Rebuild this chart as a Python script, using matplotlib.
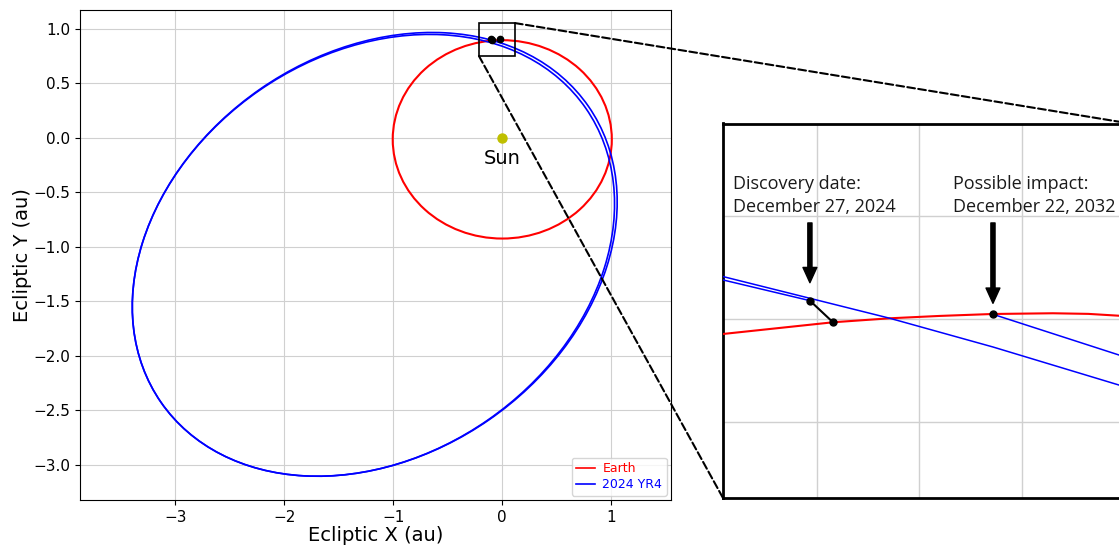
import matplotlib
matplotlib.use('Agg')
import matplotlib.pyplot as plt
from matplotlib.patches import Ellipse, Rectangle, ConnectionPatch
from matplotlib.lines import Line2D

# ---------------- main panel data (au) ----------------
earth_center = (0.0, -0.015)
earth_width = 2.01
earth_height = 1.82

yr4_centers = [(-1.170, -1.070), (-1.182, -1.079)]
yr4_widths = [4.77, 4.74]
yr4_heights = [3.69, 3.68]
yr4_angles = [34.7, 34.7]

sun_xy = (0.0, 0.0)
main_dots_x = [-0.104, -0.096, -0.021]
main_dots_y = [0.903, 0.897, 0.903]

zoom_box_x = (-0.214, 0.117)
zoom_box_y = (0.750, 1.052)

x_ticks = [-3, -2, -1, 0, 1]
y_ticks = [-3.0, -2.5, -2.0, -1.5, -1.0, -0.5, 0.0, 0.5, 1.0]

# ---------------- inset data (grid units) ----------------
earth_in_x = [-0.914, 0.159, 0.714, 1.200, 1.720, 2.305, 2.650, 2.949, 3.057]
earth_in_y = [-0.146, -0.032, 0.007, 0.030, 0.049, 0.056, 0.050, 0.032, 0.024]

pass2028_x = [-0.914, 0.714, 1.720, 2.949, 3.057]
pass2028_y = [0.414, 0.007, -0.273, -0.644, -0.676]

start_x = [-0.914, -0.066]
start_y = [0.381, 0.179]

end_x = [1.720, 2.949, 3.057]
end_y = [0.046, -0.351, -0.386]

disc_ast = (-0.066, 0.179)
disc_earth = (0.159, -0.032)
impact_pt = (1.720, 0.046)

arrow_x = [-0.066, 1.720]
arrow_tail_y = [0.937, 0.937]
arrow_tip_y = [0.354, 0.153]

label_x = [-0.817, 1.333]
label_line1 = ["Discovery date:", "Possible impact:"]
label_line2 = ["December 27, 2024", "December 22, 2032"]
label_base1_y = 1.268
label_base2_y = 1.047

# ---------------- figure ----------------
fig = plt.figure(figsize=(11.19, 5.48), dpi=100)
W, H = 1119, 548
ax = fig.add_axes([80 / W, (H - 500) / H, (671 - 80) / W, (500 - 10) / H])

ax.add_patch(Ellipse(earth_center, earth_width, earth_height, angle=0,
                     fill=False, ec='red', lw=1.5, zorder=3))
for c, w, h, a in zip(yr4_centers, yr4_widths, yr4_heights, yr4_angles):
    ax.add_patch(Ellipse(c, w, h, angle=a, fill=False, ec='blue', lw=1.2, zorder=3))

ax.plot([sun_xy[0]], [sun_xy[1]], 'o', color='y', ms=6.5, zorder=4)
ax.text(sun_xy[0], sun_xy[1] - 0.244, 'Sun', ha='center', va='baseline', fontsize=14)

ax.plot(main_dots_x, main_dots_y, 'o', color='black', ms=4.5, zorder=5)
ax.add_patch(Rectangle((zoom_box_x[0], zoom_box_y[0]),
                       zoom_box_x[1] - zoom_box_x[0], zoom_box_y[1] - zoom_box_y[0],
                       fill=False, ec='black', lw=1.2, zorder=6))

ax.set_xlim(-3.874, 1.548)
ax.set_ylim(-3.324, 1.172)
ax.set_xticks(x_ticks)
ax.set_yticks(y_ticks)
ax.tick_params(labelsize=11)
ax.grid(True, color='#d0d0d0', lw=0.8)
ax.set_axisbelow(True)
ax.set_xlabel('Ecliptic X (au)', fontsize=14, labelpad=1)
ax.set_ylabel('Ecliptic Y (au)', fontsize=14, labelpad=1)

handles = [Line2D([], [], color='red', lw=1.2, label='Earth'),
           Line2D([], [], color='blue', lw=1.2, label='2024 YR4')]
ax.legend(handles=handles, loc='lower right', fontsize=9, labelcolor='linecolor',
          handlelength=1.5, handletextpad=0.6, borderpad=0.35, labelspacing=0.25,
          borderaxespad=0.35)

# ---------------- inset ----------------
ax_in = fig.add_axes([723 / W, (H - 498) / H, (1130 - 723) / W, (498 - 123.5) / H])
ax_in.set_xlim(-0.914, 3.057)
ax_in.set_ylim(-1.746, 1.907)
ax_in.set_xticks([0, 1, 2, 3])
ax_in.set_yticks([-1, 0, 1])
ax_in.tick_params(length=0, labelbottom=False, labelleft=False)
ax_in.grid(True, color='#d0d0d0', lw=1.0)
ax_in.set_axisbelow(True)
for s in ax_in.spines.values():
    s.set_linewidth(2.0)
    s.set_color('black')

ax_in.plot(earth_in_x, earth_in_y, color='red', lw=1.5, zorder=3)
ax_in.plot(pass2028_x, pass2028_y, color='blue', lw=1.1, zorder=3)
ax_in.plot(start_x, start_y, color='blue', lw=1.1, zorder=3)
ax_in.plot(end_x, end_y, color='blue', lw=1.1, zorder=3)
ax_in.plot([disc_ast[0], disc_earth[0]], [disc_ast[1], disc_earth[1]],
           color='black', lw=1.5, zorder=4)
ax_in.plot([disc_ast[0], disc_earth[0], impact_pt[0]],
           [disc_ast[1], disc_earth[1], impact_pt[1]],
           'o', color='black', ms=5, zorder=5, ls='none')

for xa, yt, yp in zip(arrow_x, arrow_tail_y, arrow_tip_y):
    ax_in.annotate('', xy=(xa, yp), xytext=(xa, yt),
                   arrowprops=dict(facecolor='black', edgecolor='black',
                                   width=3, headwidth=10, headlength=11, shrink=0))

for lx, t1, t2 in zip(label_x, label_line1, label_line2):
    ax_in.text(lx, label_base1_y, t1, fontsize=13, family='Open Sans',
               ha='left', va='baseline', color='#1a1a1a')
    ax_in.text(lx, label_base2_y, t2, fontsize=13, family='Open Sans',
               ha='left', va='baseline', color='#1a1a1a')

# ---------------- connecting dashed lines ----------------
con1 = ConnectionPatch(xyA=(zoom_box_x[1], zoom_box_y[1]), coordsA='data', axesA=ax,
                       xyB=(1, 1), coordsB='axes fraction', axesB=ax_in,
                       ls='--', lw=1.5, color='black')
con2 = ConnectionPatch(xyA=(zoom_box_x[0], zoom_box_y[0]), coordsA='data', axesA=ax,
                       xyB=(0, 0), coordsB='axes fraction', axesB=ax_in,
                       ls='--', lw=1.5, color='black')
fig.add_artist(con1)
fig.add_artist(con2)

fig.savefig('out.png', dpi=100)
